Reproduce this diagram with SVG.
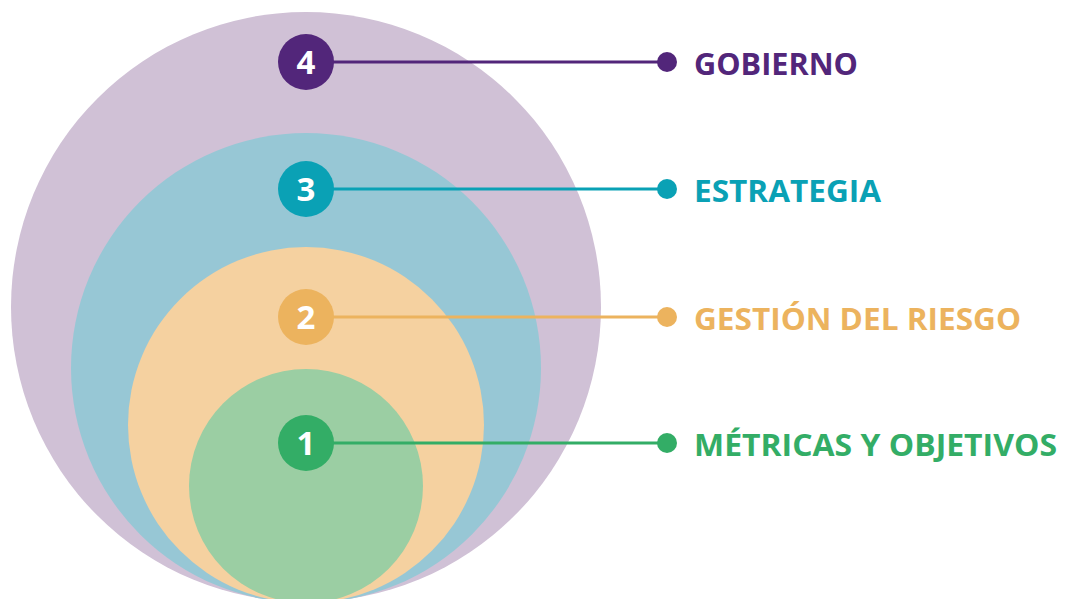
<svg xmlns="http://www.w3.org/2000/svg" width="1073" height="599" viewBox="0 0 1073 599">
<style>
.lbl{font-family:"Open Sans","Noto Sans","Liberation Sans",sans-serif;font-weight:700;font-size:31px}
.num{font-family:"Open Sans","Noto Sans","Liberation Sans",sans-serif;font-weight:700;font-size:33px;fill:#ffffff;text-anchor:middle}
.ln{stroke-width:3;fill:none}
</style>
<rect width="1073" height="599" fill="#ffffff"/>
<g id="ring4"><circle cx="306" cy="307" r="295" fill="#d0c1d6"/></g>
<g id="ring3"><circle cx="306" cy="368" r="235" fill="#97c7d5"/></g>
<g id="ring2"><circle cx="306" cy="425" r="178" fill="#f5d1a0"/></g>
<g id="ring1"><circle cx="306" cy="486" r="117" fill="#9bcea3"/></g>
<g id="connectors">
<line class="ln" x1="306" y1="62" x2="667" y2="62" stroke="#52267a"/>
<circle cx="667" cy="62" r="10" fill="#52267a"/>
<line class="ln" x1="306" y1="189" x2="667" y2="189" stroke="#0aa1b5"/>
<circle cx="667" cy="189" r="10" fill="#0aa1b5"/>
<line class="ln" x1="306" y1="317" x2="667" y2="317" stroke="#ecb35e"/>
<circle cx="667" cy="317" r="10" fill="#ecb35e"/>
<line class="ln" x1="306" y1="443" x2="667" y2="443" stroke="#33ad66"/>
<circle cx="667" cy="443" r="10" fill="#33ad66"/>
</g>
<g id="node4">
<circle cx="306" cy="62" r="28" fill="#52267a"/>
<text class="num" x="306" y="74">4</text>
<text class="lbl" x="694" y="75" fill="#52267a" textLength="164" lengthAdjust="spacingAndGlyphs">GOBIERNO</text>
</g>
<g id="node3">
<circle cx="306" cy="189" r="28" fill="#0aa1b5"/>
<text class="num" x="306" y="201">3</text>
<text class="lbl" x="694" y="202" fill="#0aa1b5" textLength="187" lengthAdjust="spacingAndGlyphs">ESTRATEGIA</text>
</g>
<g id="node2">
<circle cx="306" cy="317" r="28" fill="#ecb35e"/>
<text class="num" x="306" y="329">2</text>
<text class="lbl" x="694" y="330" fill="#ecb35e" textLength="327" lengthAdjust="spacingAndGlyphs">GESTIÓN DEL RIESGO</text>
</g>
<g id="node1">
<circle cx="306" cy="443" r="28" fill="#33ad66"/>
<text class="num" x="306" y="455">1</text>
<text class="lbl" x="694" y="456" fill="#33ad66" textLength="363" lengthAdjust="spacingAndGlyphs">MÉTRICAS Y OBJETIVOS</text>
</g>
</svg>
